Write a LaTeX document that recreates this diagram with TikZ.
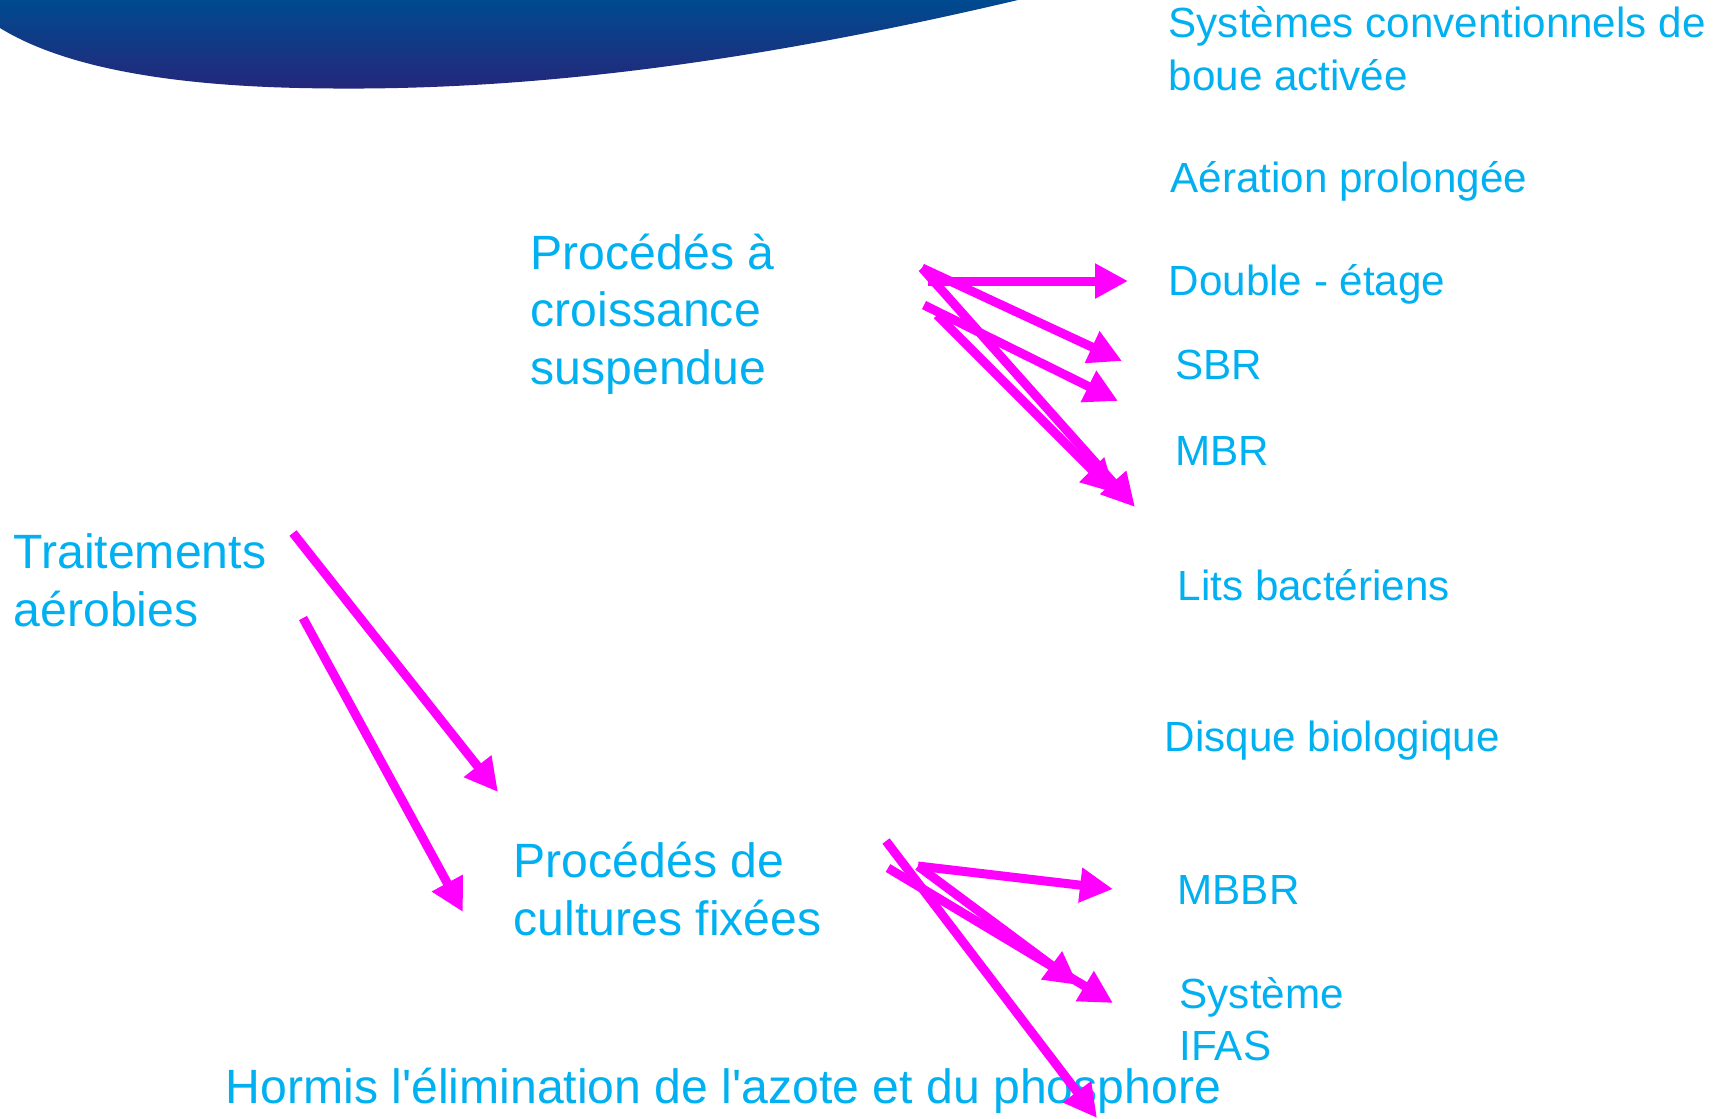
\documentclass[tikz,border=0pt]{standalone}
\usepackage{fontspec}
\setmainfont{Liberation Sans}
\usetikzlibrary{arrows.meta}
\definecolor{slide-cyan}{RGB}{0,176,240}
\definecolor{slide-magenta}{RGB}{255,0,255}
\definecolor{band-top}{RGB}{0,74,143}
\definecolor{band-bottom}{RGB}{38,38,122}
\tikzset{
    big-label/.style = {text=slide-cyan, font=\fontsize{13.7pt}{16.3pt}\selectfont, inner sep=0pt, anchor=base west, align=left},
    small-label/.style = {text=slide-cyan, font=\fontsize{12pt}{14.8pt}\selectfont, inner sep=0pt, anchor=base west, align=left},
    flow-arrow/.style = {draw=slide-magenta, line width=0.9mm, -{Triangle[length=3.3mm,width=3.3mm]}},
}

\begin{document}
\begin{tikzpicture}[x=0.1mm, y=-0.1mm]
\useasboundingbox (0,0) rectangle (1725,1118);
\shade[top color=band-top, bottom color=band-bottom] (0,0) -- (1018,0) .. controls (700,75) and (480,92) .. (300,88) .. controls (160,85) and (60,65) .. (0,28) -- cycle;

\node[big-label] (aerobic) at (13,626) {Traitements\\aérobies};
\node[big-label] (suspended) at (530,384) {Procédés à\\croissance\\suspendue};
\node[big-label] (fixed) at (513,935) {Procédés de\\cultures fixées};
\node[big-label] (note) at (225,1103) {Hormis l\textquotesingle élimination de l\textquotesingle azote et du phosphore};

\node[small-label] (conventional) at (1168,90) {Systèmes conventionnels de\\boue activée};
\node[small-label] (extended) at (1170,192) {Aération prolongée};
\node[small-label] (two-stage) at (1168,295) {Double - étage};
\node[small-label] (sbr) at (1175,379) {SBR};
\node[small-label] (mbr) at (1175,465) {MBR};
\node[small-label] (trickling) at (1177,600) {Lits bactériens};
\node[small-label] (disc) at (1164,751) {Disque biologique};
\node[small-label] (mbbr) at (1177,904) {MBBR};
\node[small-label] (ifas) at (1179,1060) {Système\\IFAS};

\coordinate (aer-a) at (293,533);
\coordinate (aer-b) at (303,618);
\coordinate (aer-a-end) at (498,792);
\coordinate (aer-b-end) at (463,912);
\draw[flow-arrow] (aer-a) -- (aer-a-end);
\draw[flow-arrow] (aer-b) -- (aer-b-end);

\coordinate (susp-a) at (922,268);
\coordinate (susp-b) at (924,305);
\coordinate (susp-c) at (937,315);
\coordinate (susp-d) at (928,281);
\coordinate (susp-end-a) at (1128,281);
\coordinate (susp-end-b) at (1122,361);
\coordinate (susp-end-c) at (1118,401);
\coordinate (susp-end-d) at (1135,507);
\coordinate (susp-end-e) at (1115,493);
\draw[flow-arrow] (susp-d) -- (susp-end-a);
\draw[flow-arrow] (susp-a) -- (susp-end-b);
\draw[flow-arrow] (susp-b) -- (susp-end-c);
\draw[flow-arrow] (susp-a) -- (susp-end-d);
\draw[flow-arrow] (susp-c) -- (susp-end-e);

\coordinate (fix-a) at (886,841);
\coordinate (fix-b) at (888,868);
\coordinate (fix-c) at (918,866);
\coordinate (fix-end-a) at (1113,889);
\coordinate (fix-end-b) at (1113,1003);
\coordinate (fix-end-c) at (1078,985);
\coordinate (fix-end-d) at (1097,1118);
\draw[flow-arrow] (fix-c) -- (fix-end-a);
\draw[flow-arrow] (fix-b) -- (fix-end-b);
\draw[flow-arrow] (fix-c) -- (fix-end-c);
\draw[flow-arrow] (fix-a) -- (fix-end-d);
\end{tikzpicture}
\end{document}
